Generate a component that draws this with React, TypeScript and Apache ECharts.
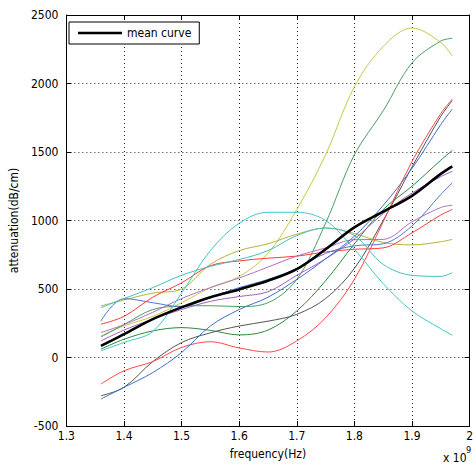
import React, { useEffect, useRef } from "react";
import * as echarts from "echarts";

// frequency samples (x 10^9 Hz)
const freq = [1.36, 1.4, 1.45, 1.5, 1.55, 1.6, 1.65, 1.7, 1.75, 1.8, 1.85, 1.9, 1.95, 1.97];

// individual attenuation curves (dB/cm)
const yellowPeak = [158, 230, 300, 400, 510, 590, 760, 1080, 1480, 1975, 2270, 2405, 2300, 2200];
const olive = [376, 420, 470, 500, 680, 780, 830, 900, 945, 905, 840, 822, 845, 862];
const greenSteep = [150, 240, 350, 375, 378, 372, 400, 570, 980, 1480, 1800, 2150, 2310, 2330];
const greenLow = [61, 133, 194, 218, 198, 165, 200, 340, 560, 830, 1080, 1250, 1440, 1512];
const gray = [-279, -218, -30, 109, 180, 230, 265, 315, 430, 650, 1000, 1390, 1760, 1875];
const redDip = [-194, -97, -30, 73, 115, 70, 40, 121, 290, 570, 990, 1430, 1780, 1886];
const redUpper = [243, 300, 440, 545, 670, 705, 725, 740, 770, 790, 800, 910, 1040, 1080];
const purpleA = [182, 240, 330, 430, 510, 580, 660, 740, 800, 860, 862, 990, 1095, 1111];
const purpleB = [121, 200, 280, 350, 410, 445, 480, 600, 720, 865, 1050, 1200, 1320, 1359];
const blueA = [267, 430, 400, 370, 440, 510, 570, 650, 760, 815, 830, 960, 1190, 1274];
const blueB = [-303, -218, -110, 36, 230, 350, 440, 570, 720, 885, 1110, 1380, 1700, 1813];
const cyanHump = [49, 110, 190, 470, 780, 980, 1060, 1060, 1000, 790, 540, 340, 210, 162];
const cyanB = [364, 430, 510, 600, 665, 715, 780, 890, 945, 890, 680, 600, 592, 619];
const meanCurve = [85, 170, 280, 366, 440, 497, 560, 645, 790, 950, 1065, 1180, 1340, 1395];

// axis ticks
const xTicks = [1.3, 1.4, 1.5, 1.6, 1.7, 1.8, 1.9, 2];
const yTicks = [-500, 0, 500, 1000, 1500, 2000, 2500];

const curves = [
  { name: "c1", values: yellowPeak, color: "#c8c846" },
  { name: "c2", values: olive, color: "#b4b43c" },
  { name: "c3", values: greenSteep, color: "#4e9e62" },
  { name: "c4", values: greenLow, color: "#2a8a3c" },
  { name: "c5", values: gray, color: "#555555" },
  { name: "c6", values: redDip, color: "#ff4848" },
  { name: "c7", values: redUpper, color: "#ff3c3c" },
  { name: "c8", values: purpleA, color: "#b070c8" },
  { name: "c9", values: purpleB, color: "#a060c0" },
  { name: "c10", values: blueA, color: "#5078d0" },
  { name: "c11", values: blueB, color: "#4070c8" },
  { name: "c12", values: cyanHump, color: "#40c8c8" },
  { name: "c13", values: cyanB, color: "#48c0c0" },
];

const FONT = "'Liberation Sans Narrow', 'DejaVu Sans Condensed', 'Liberation Sans', Arial, sans-serif";

export default function App() {
  const ref = useRef<HTMLDivElement>(null);
  useEffect(() => {
    document.body.style.margin = "0";
    const chart = echarts.init(ref.current!, null, { renderer: "svg" });
    const pair = (ys: number[]) => freq.map((x, i) => [x, ys[i]]);
    const xMin = xTicks[0];
    const xMax = xTicks[xTicks.length - 1];
    const yMin = yTicks[0];
    const yMax = yTicks[yTicks.length - 1];
    const txt = { color: "#000", fontSize: 12, fontFamily: FONT };
    const series: any[] = curves.map((c) => ({
      type: "line",
      name: c.name,
      data: pair(c.values),
      smooth: 0.35,
      symbol: "none",
      silent: true,
      lineStyle: { color: c.color, width: 1 },
      itemStyle: { color: c.color },
      z: 2,
    }));
    series.push({
      type: "line",
      name: "mean curve",
      data: pair(meanCurve),
      smooth: 0.35,
      symbol: "none",
      silent: true,
      lineStyle: { color: "#000", width: 2.6 },
      itemStyle: { color: "#000" },
      z: 3,
    });
    chart.setOption({
      animation: false,
      backgroundColor: "#fff",
      grid: { left: 63, top: 15, width: 411, height: 412, containLabel: false },
      legend: {
        data: [{ name: "mean curve", icon: "rect" }],
        left: 69,
        top: 22,
        padding: [5, 8, 5, 9],
        itemWidth: 44,
        itemHeight: 2.6,
        itemGap: 5,
        borderColor: "#000",
        borderWidth: 1,
        borderRadius: 0,
        backgroundColor: "#fff",
        textStyle: { ...txt, padding: [0, 0, 0, 0] },
        selectedMode: false,
        z: 10,
      },
      xAxis: [
        {
          type: "value",
          min: xMin,
          max: xMax,
          interval: 0.1,
          position: "bottom",
          axisLine: { show: true, onZero: false, lineStyle: { color: "#000", width: 1 } },
          axisTick: { show: true, inside: true, length: 5, lineStyle: { color: "#000" } },
          axisLabel: {
            ...txt,
            margin: 4,
            formatter: (v: number) => String(Math.round(v * 10) / 10),
          },
          splitLine: { show: true, lineStyle: { color: "#222", width: 1, type: [1, 3] } },
          name: "frequency(Hz)",
          nameLocation: "middle",
          nameGap: 22,
          nameTextStyle: txt,
        },
        {
          type: "value",
          min: xMin,
          max: xMax,
          interval: 0.1,
          position: "top",
          axisLine: { show: true, onZero: false, lineStyle: { color: "#000", width: 1 } },
          axisTick: { show: true, inside: true, length: 5, lineStyle: { color: "#000" } },
          axisLabel: { show: false },
          splitLine: { show: false },
        },
      ],
      yAxis: [
        {
          type: "value",
          min: yMin,
          max: yMax,
          interval: 500,
          position: "left",
          axisLine: { show: true, onZero: false, lineStyle: { color: "#000", width: 1 } },
          axisTick: { show: true, inside: true, length: 5, lineStyle: { color: "#000" } },
          axisLabel: { ...txt, margin: 8, formatter: (v: number) => String(v) },
          splitLine: { show: true, lineStyle: { color: "#222", width: 1, type: [1, 3] } },
          name: "attenuation(dB/cm)",
          nameLocation: "middle",
          nameGap: 32,
          nameRotate: 90,
          nameTextStyle: txt,
        },
        {
          type: "value",
          min: yMin,
          max: yMax,
          interval: 500,
          position: "right",
          axisLine: { show: true, onZero: false, lineStyle: { color: "#000", width: 1 } },
          axisTick: { show: true, inside: true, length: 5, lineStyle: { color: "#000" } },
          axisLabel: { show: false },
          splitLine: { show: false },
        },
      ],
      graphic: [
        {
          type: "text",
          x: 443,
          y: 452,
          style: {
            text: "x 10",
            fontSize: 12,
            lineHeight: 12,
            fontFamily: FONT,
            fill: "#000",
            verticalAlign: "top",
          },
        },
        {
          type: "text",
          x: 466,
          y: 445,
          style: {
            text: "9",
            fontSize: 9,
            lineHeight: 9,
            fontFamily: FONT,
            fill: "#000",
            verticalAlign: "top",
          },
        },
      ],
      series,
    });
    return () => chart.dispose();
  }, []);
  return <div ref={ref} style={{ width: 476, height: 465 }} />;
}
